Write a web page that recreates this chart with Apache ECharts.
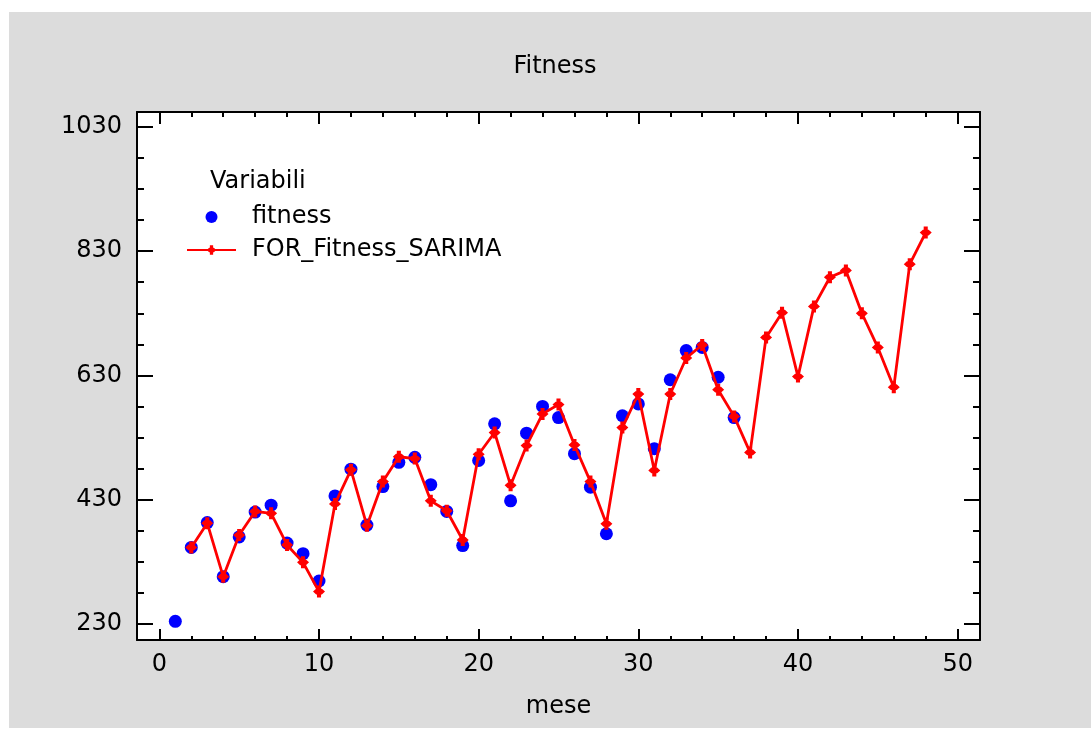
<!DOCTYPE html>
<html>
<head>
<meta charset="utf-8">
<script src="https://cdn.jsdelivr.net/npm/echarts@6/dist/echarts.min.js"></script>
<style>
  html, body { margin: 0; padding: 0; background: #fff; }
  #chart { width: 1091px; height: 729px; }
</style>
</head>
<body>
<div id="chart"></div>
<script>
// valori osservati (mese 1..36)
const fitness = [234, 353, 393, 306, 370, 410, 421, 360, 343, 299,
    436, 479, 389, 451, 490, 498, 454, 411, 356, 493,
    552, 428, 537, 580, 562, 504, 450, 375, 565, 584,
    512, 623, 670, 675, 627, 562];
const fitnessStart = 1;

// previsioni SARIMA (mese 2..48)
const forecast = [353, 392, 306, 373, 411, 408, 357, 329, 282,
    423, 478, 388, 459, 499, 496, 428, 412, 365, 503,
    538, 453, 517, 568, 583, 518, 459, 391, 546, 600,
    477, 600, 658, 679, 607, 564, 506, 691, 731, 628,
    741, 788, 799, 730, 675, 611, 809, 860];
const forecastStart = 2;

// ticks
const xMajor = [0, 10, 20, 30, 40, 50];
const xMinor = [0, 2, 4, 6, 8, 10, 12, 14, 16, 18, 20, 22, 24, 26, 28, 30,
    32, 34, 36, 38, 40, 42, 44, 46, 48, 50];
const yMajor = [230, 430, 630, 830, 1030];
const yMinor = [230, 280, 330, 380, 430, 480, 530, 580, 630, 680, 730, 780,
    830, 880, 930, 980, 1030];

const FONT = "DejaVu Sans";
const FS = 24;

const X_MIN = -1.4, X_MAX = 51.4;
const Y_MIN = 204, Y_MAX = 1054;

function plain(v) {
    return String(v);
}

function xAxisDef(position, ticks, len, withLabels) {
    return {
        type: 'value',
        position: position,
        min: X_MIN,
        max: X_MAX,
        splitLine: {show: false},
        axisLine: {show: withLabels !== null, onZero: false, lineStyle: {color: '#000', width: 2}},
        axisTick: {
            show: true, inside: true, length: len, customValues: ticks,
            lineStyle: {color: '#000', width: 2}
        },
        axisLabel: withLabels ? {
            show: true, customValues: xMajor, margin: 13, formatter: plain,
            color: '#000', fontFamily: FONT, fontSize: FS, lineHeight: FS
        } : {show: false}
    };
}

function yAxisDef(position, ticks, len, withLabels) {
    return {
        type: 'value',
        position: position,
        min: Y_MIN,
        max: Y_MAX,
        splitLine: {show: false},
        axisLine: {show: withLabels !== null, onZero: false, lineStyle: {color: '#000', width: 2}},
        axisTick: {
            show: true, inside: true, length: len, customValues: ticks,
            lineStyle: {color: '#000', width: 2}
        },
        axisLabel: withLabels ? {
            show: true, customValues: yMajor, margin: 15, formatter: plain,
            color: '#000', fontFamily: FONT, fontSize: FS
        } : {show: false}
    };
}

// croce piena con rombo al centro
const markerPath = 'path://M3.3,0H6.7V2.6H7.4L10,5L7.4,7.4H6.7V10H3.3V7.4H2.6L0,5L2.6,2.6H3.3Z';

const chart = echarts.init(document.getElementById('chart'));

const xAxes = [
    xAxisDef('bottom', xMajor, 11, true),
    xAxisDef('bottom', xMinor, 4, null),
    xAxisDef('top', xMajor, 12, false),
    xAxisDef('top', xMinor, 5, null)
];
xAxes[0].name = 'mese';
xAxes[0].nameLocation = 'middle';
xAxes[0].nameGap = 55;
xAxes[0].nameTextStyle = {color: '#000', fontFamily: FONT, fontSize: FS, lineHeight: FS};

const yAxes = [
    yAxisDef('left', yMajor, 16, true),
    yAxisDef('left', yMinor, 7, null),
    yAxisDef('right', yMajor, 16, false),
    yAxisDef('right', yMinor, 7, null)
];

const option = {
    animation: false,
    backgroundColor: '#fff',
    graphic: [{
        type: 'rect',
        z: -100,
        shape: {x: 9, y: 12, width: 1082, height: 716},
        style: {fill: '#dcdcdc'}
    }],
    title: [
        {
            text: 'Fitness',
            left: 555, top: 55, textAlign: 'center', padding: 0,
            textStyle: {color: '#000', fontFamily: FONT, fontSize: FS, fontWeight: 'normal', lineHeight: FS}
        },
        {
            text: 'Variabili',
            left: 210, top: 170, padding: 0,
            textStyle: {color: '#000', fontFamily: FONT, fontSize: FS, fontWeight: 'normal', lineHeight: FS}
        }
    ],
    legend: {
        orient: 'vertical',
        left: 186, top: 205,
        padding: 0,
        itemWidth: 49,
        itemHeight: 12,
        itemGap: 9,
        data: ['fitness', 'FOR_Fitness_SARIMA'],
        textStyle: {color: '#000', fontFamily: FONT, fontSize: FS, lineHeight: FS, padding: [0, 0, 0, 11]}
    },
    grid: {
        left: 137, right: 111, top: 112, bottom: 89,
        show: true, backgroundColor: '#fff', borderWidth: 0
    },
    xAxis: xAxes,
    yAxis: yAxes,
    series: [
        {
            name: 'fitness',
            type: 'scatter',
            symbol: 'circle',
            symbolSize: 13,
            itemStyle: {color: '#0000ff', opacity: 1},
            data: fitness.map(function (v, i) { return [i + fitnessStart, v]; })
        },
        {
            name: 'FOR_Fitness_SARIMA',
            type: 'line',
            symbol: markerPath,
            symbolSize: 12,
            showSymbol: true,
            color: '#ff0000',
            lineStyle: {color: '#ff0000', width: 2.8},
            itemStyle: {color: '#ff0000'},
            data: forecast.map(function (v, i) { return [i + forecastStart, v]; })
        }
    ]
};

chart.setOption(option);
</script>
</body>
</html>
